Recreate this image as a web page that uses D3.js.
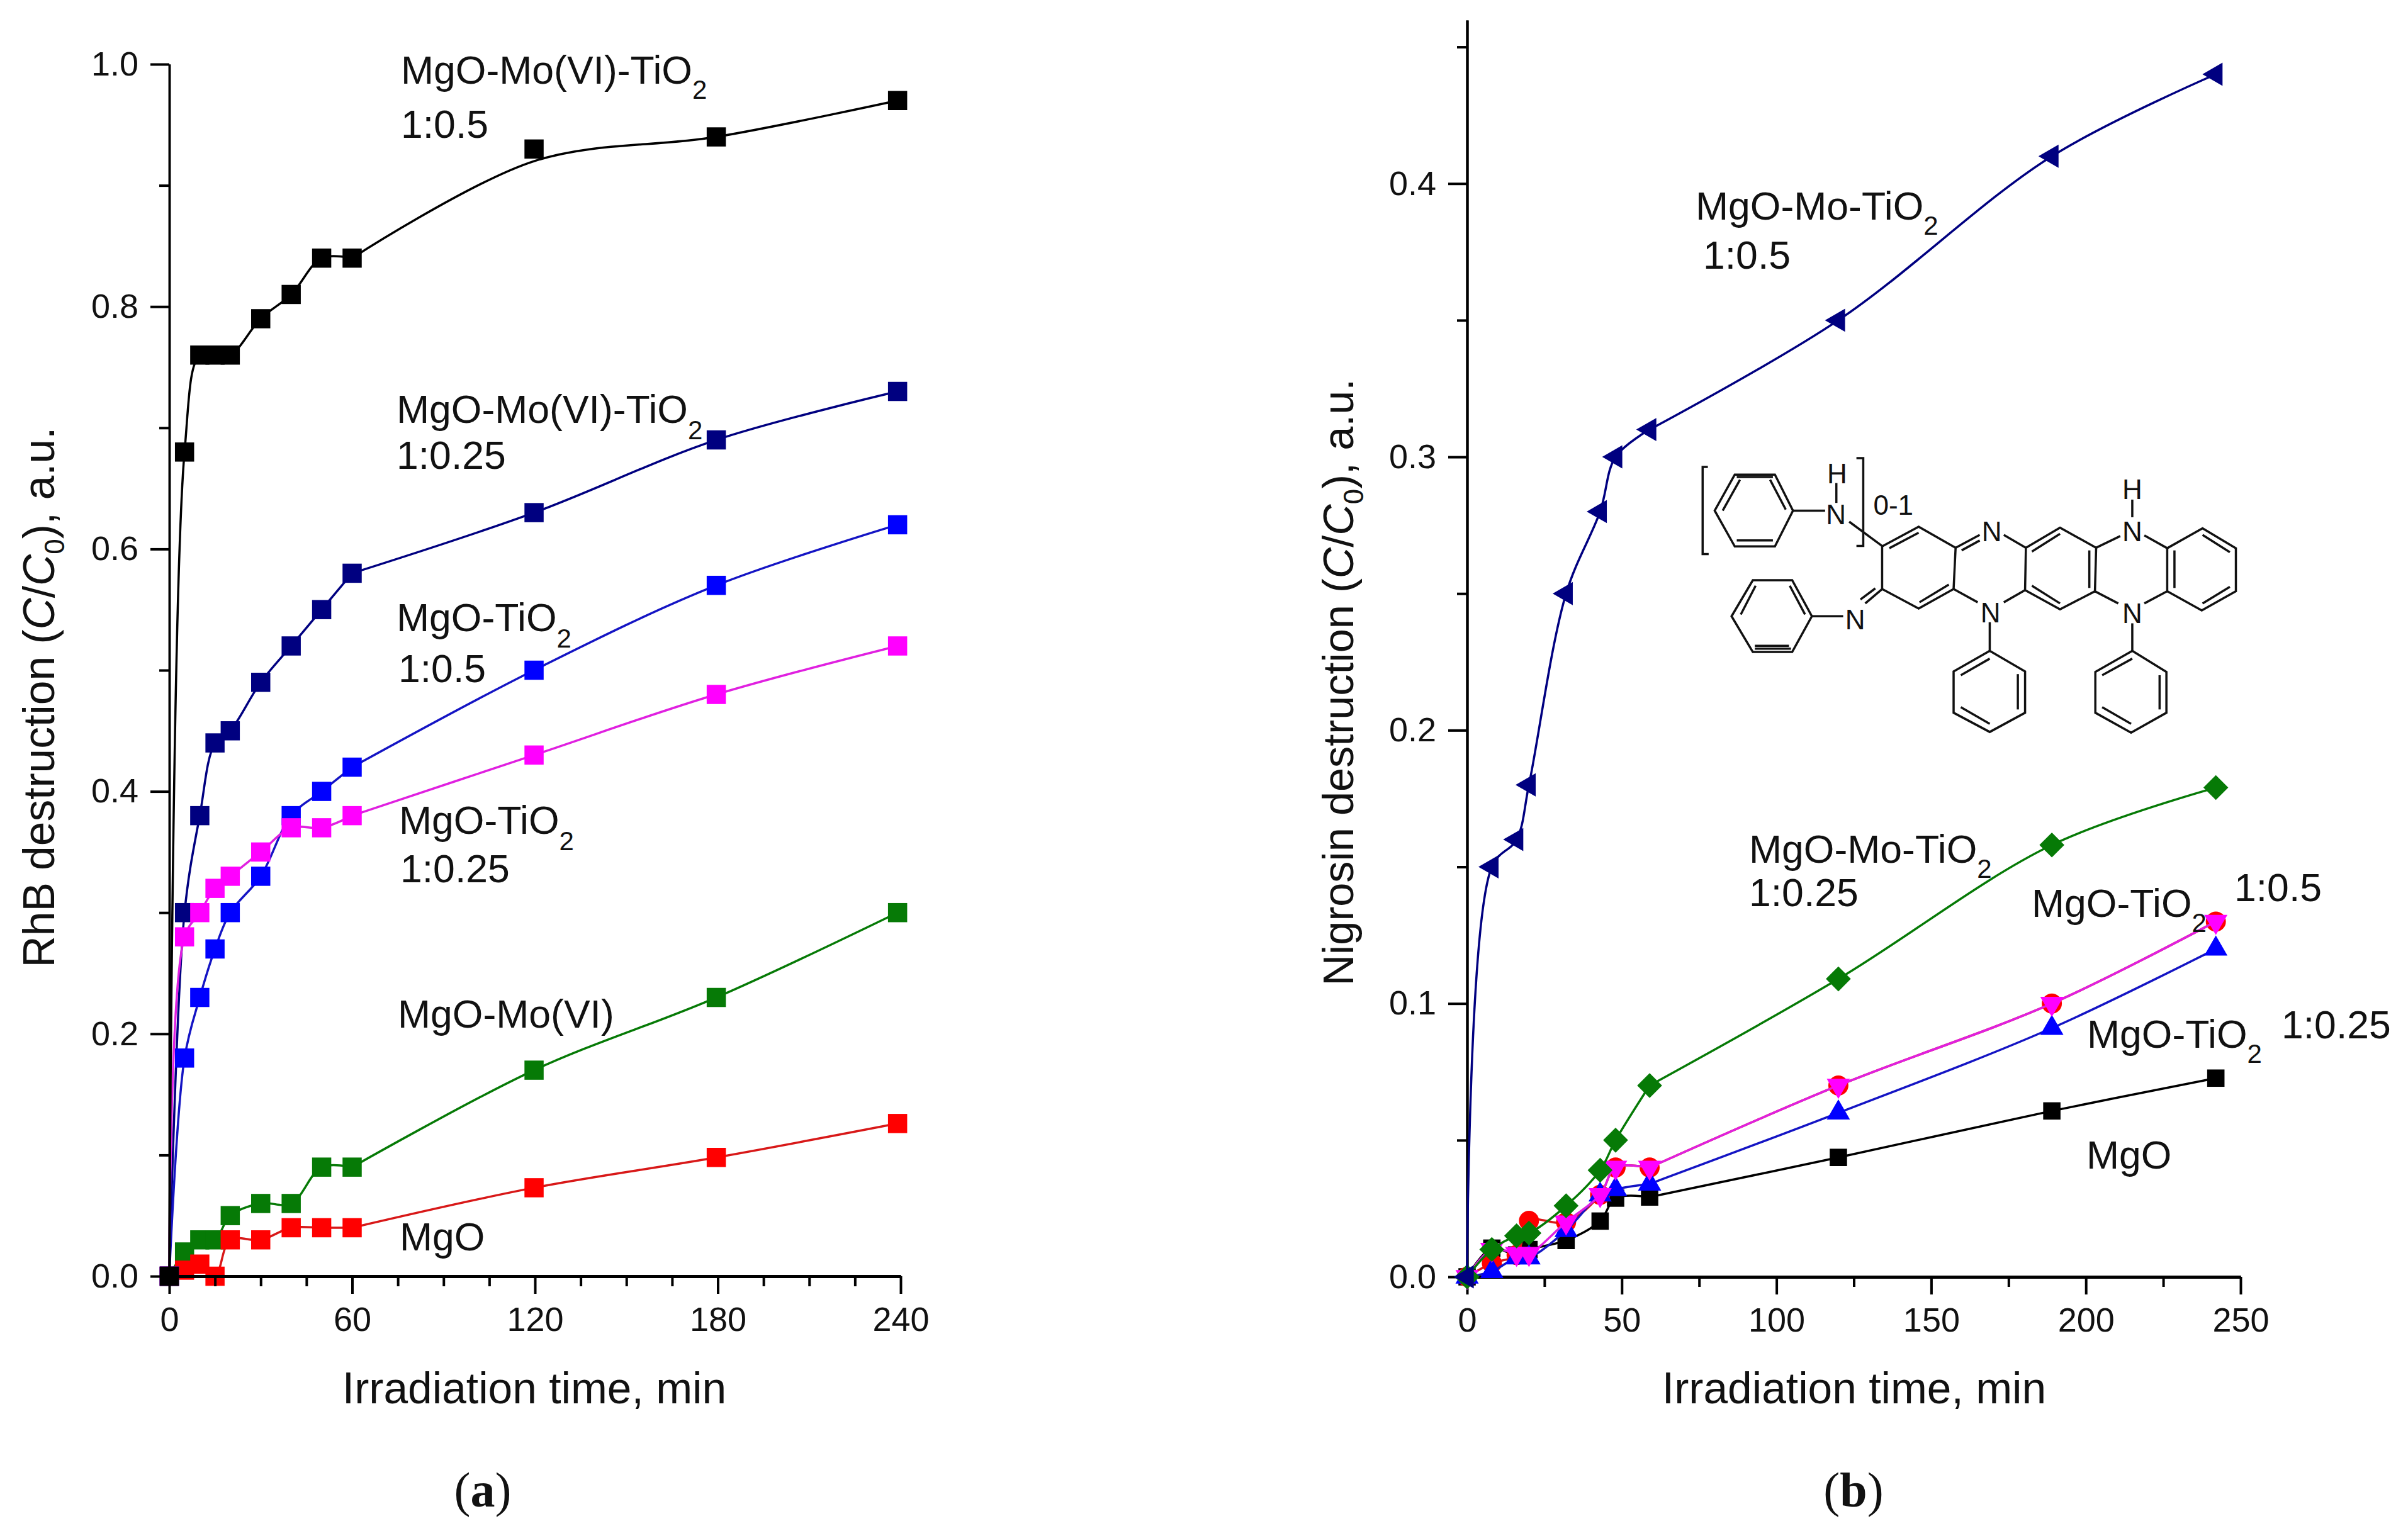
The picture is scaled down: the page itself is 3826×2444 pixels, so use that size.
<!DOCTYPE html>
<html>
<head>
<meta charset="utf-8">
<script src="https://cdn.jsdelivr.net/npm/d3@7.9.0/dist/d3.min.js"></script>
<style>
  html, body { margin: 0; background: #fff; }
  svg { display: block; }
  text { font-family: "Liberation Sans", Arial, sans-serif; fill: #111; }
</style>
</head>
<body>
<svg id="chart" width="3826" height="2444"></svg>
<script>
// panel a: RhB
const timeA = [0, 5, 10, 15, 20, 30, 40, 50, 60, 119.7, 179.5, 239];
const mgoMoTi05 = [0, 0.68, 0.76, 0.76, 0.76, 0.79, 0.81, 0.84, 0.84, 0.93, 0.94, 0.97];
const mgoMoTi05Fit = [0, 0.68, 0.76, 0.76, 0.76, 0.79, 0.81, 0.84, 0.84, 0.92, 0.94, 0.97]; // the fit misses the 120 min point
const mgoMoTi025 = [0, 0.30, 0.38, 0.44, 0.45, 0.49, 0.52, 0.55, 0.58, 0.63, 0.69, 0.73];
const mgoTi05 = [0, 0.18, 0.23, 0.27, 0.30, 0.33, 0.38, 0.40, 0.42, 0.50, 0.57, 0.62];
const mgoTi025 = [0, 0.28, 0.30, 0.32, 0.33, 0.35, 0.37, 0.37, 0.38, 0.43, 0.48, 0.52];
const mgoMo = [0, 0.02, 0.03, 0.03, 0.05, 0.06, 0.06, 0.09, 0.09, 0.17, 0.23, 0.30];
const mgoA = [0, 0.005, 0.01, 0, 0.03, 0.03, 0.04, 0.04, 0.04, 0.073, 0.098, 0.126];

// panel b: Nigrosin
const timeB = [0, 8, 16, 20, 32, 43, 48, 59, 120, 189, 242];
const nMgO = [0, 0.0105, 0.008, 0.01, 0.0133, 0.0204, 0.0288, 0.0292, 0.0437, 0.0607, 0.0727];
const nTi05Red = [0, 0.005, 0.008, 0.0205, 0.02, 0.03, 0.04, 0.04, 0.07, 0.10, 0.13];
const nTi025 = [0, 0.002, 0.007, 0.007, 0.017, 0.03, 0.032, 0.034, 0.06, 0.091, 0.12];
const nTi05 = [0, 0.01, 0.0085, 0.0085, 0.02, 0.03, 0.04, 0.04, 0.07, 0.10, 0.13];
const nMoTi025 = [0, 0.01, 0.015, 0.016, 0.026, 0.039, 0.05, 0.07, 0.109, 0.158, 0.179];
const nMoTi05 = [0, 0.15, 0.16, 0.18, 0.25, 0.28, 0.30, 0.31, 0.35, 0.41, 0.44];

const BLACK = '#000', NAVY = '#000080', BLUE = '#0000ff', PINK = '#ff00ff', GREEN = '#067a06', RED = '#ff0000';

const svg = d3.select('#chart');
svg.append('rect').attr('width', 3826).attr('height', 2444).attr('fill', '#fff');

const xA = d3.scaleLinear().domain([0, 240]).range([269, 1431]);
const yA = d3.scaleLinear().domain([0, 1]).range([2028, 102]);
const xB = d3.scaleLinear().domain([0, 250]).range([2331, 3560]);
const yB = d3.scaleLinear().domain([0, 0.4598]).range([2029, 32]);

const square = size => d3.symbol(d3.symbolSquare, size)();
const triangle = d3.symbol(d3.symbolTriangle, 590)();
const markers = {
  square: { d: square(930), rot: 0 },
  smallSquare: { d: square(760), rot: 0 },
  circle: { d: d3.symbol(d3.symbolCircle, 800)(), rot: 0 },
  up: { d: triangle, rot: 0 },
  down: { d: triangle, rot: 180 },
  left: { d: triangle, rot: -90 },
  diamond: { d: square(784), rot: 45 }
};

function drawSeries(parent, x, y, time, vals, fit, color, marker, lineColor) {
  const line = d3.line().x(d => x(d[0])).y(d => y(d[1])).curve(d3.curveCatmullRom.alpha(0.5));
  const pts = time.map((t, i) => [t, fit[i]]);
  // fit early and late parts apart, else the steep start makes the long late spans wave
  const split = pts.findIndex(d => d[0] >= 59);
  [pts.slice(0, split + 1), pts.slice(split)].forEach(part => {
    parent.append('path')
      .attr('d', line(part))
      .attr('fill', 'none')
      .attr('stroke', lineColor || color)
      .attr('stroke-width', 3.5);
  });
  parent.selectAll(null)
    .data(time.map((t, i) => [t, vals[i]]))
    .join('path')
    .attr('d', markers[marker].d)
    .attr('fill', color)
    .attr('transform', d => `translate(${x(d[0])},${y(d[1])}) rotate(${markers[marker].rot})`);
}

function drawAxes(parent, x, y, cfg) {
  // minor ticks first, then majors with labels
  const gx = parent.append('g').attr('transform', `translate(0,${y(0)})`);
  gx.append('g').call(d3.axisBottom(x).tickValues(cfg.xMinor).tickSize(16).tickFormat('').tickSizeOuter(0));
  gx.append('g').call(d3.axisBottom(x).tickValues(cfg.xMajor).tickSize(28).tickPadding(21).tickSizeOuter(0).tickFormat(d3.format('d')));
  const gy = parent.append('g').attr('transform', `translate(${x(0)},0)`);
  gy.append('g').call(d3.axisLeft(y).tickValues(cfg.yMinor).tickSize(16).tickFormat('').tickSizeOuter(0));
  gy.append('g').call(d3.axisLeft(y).tickValues(cfg.yMajor).tickSize(30).tickPadding(19).tickSizeOuter(0).tickFormat(d3.format('.1f')));
  gx.selectAll('path.domain').attr('stroke', '#000').attr('stroke-width', 5);
  gy.selectAll('path.domain').attr('stroke', '#000').attr('stroke-width', cfg.yAxisW);
  parent.selectAll('.tick line').attr('stroke', '#000').attr('stroke-width', 4);
  parent.selectAll('.tick text').attr('font-size', 54).attr('font-family', '"Liberation Sans", Arial, sans-serif').attr('fill', '#111');
}

// ---- panel a
const a = svg.append('g');
drawSeries(a, xA, yA, timeA, mgoMo, mgoMo, GREEN, 'square');
drawSeries(a, xA, yA, timeA, mgoA, mgoA, RED, 'square', '#d81818');
drawSeries(a, xA, yA, timeA, mgoMoTi025, mgoMoTi025, NAVY, 'square');
drawSeries(a, xA, yA, timeA, mgoTi05, mgoTi05, BLUE, 'square', '#1414c4');
drawSeries(a, xA, yA, timeA, mgoTi025, mgoTi025, PINK, 'square', '#e020e0');
drawAxes(a, xA, yA, {
  xMajor: [0, 60, 120, 180, 240],
  xMinor: [15, 30, 45, 75, 90, 105, 135, 150, 165, 195, 210, 225],
  yMajor: [0, 0.2, 0.4, 0.6, 0.8, 1],
  yMinor: [0.1, 0.3, 0.5, 0.7, 0.9],
  yAxisW: 3.5
});
drawSeries(a, xA, yA, timeA, mgoMoTi05, mgoMoTi05Fit, BLACK, 'square');

// ---- panel b
const b = svg.append('g');
drawAxes(b, xB, yB, {
  xMajor: [0, 50, 100, 150, 200, 250],
  xMinor: [25, 75, 125, 175, 225],
  yMajor: [0, 0.1, 0.2, 0.3, 0.4],
  yMinor: [0.05, 0.15, 0.25, 0.35, 0.45],
  yAxisW: 4
});
drawSeries(b, xB, yB, timeB, nMgO, nMgO, BLACK, 'smallSquare');
drawSeries(b, xB, yB, timeB, nTi05Red, nTi05Red, RED, 'circle', '#d81818');
drawSeries(b, xB, yB, timeB, nTi025, nTi025, BLUE, 'up', '#1414c4');
drawSeries(b, xB, yB, timeB, nTi05, nTi05, PINK, 'down', '#e020e0');
drawSeries(b, xB, yB, timeB, nMoTi025, nMoTi025, GREEN, 'diamond');
drawSeries(b, xB, yB, timeB, nMoTi05, nMoTi05, NAVY, 'left');

// ---- text
const LABEL = 62.5, SUB = 42;
// [x, baseline, text, subscript, subscript drop]
const annotations = [
  [637, 133, 'MgO-Mo(VI)-TiO', '2', 24],
  [637, 219, '1:0.5'],
  [630, 672, 'MgO-Mo(VI)-TiO', '2', 26],
  [630, 745, '1:0.25'],
  [630, 1003, 'MgO-TiO', '2', 26],
  [633, 1084, '1:0.5'],
  [634, 1325, 'MgO-TiO', '2', 26],
  [636, 1402, '1:0.25'],
  [632, 1633, 'MgO-Mo(VI)'],
  [635, 1987, 'MgO'],
  [2694, 349, 'MgO-Mo-TiO', '2', 24],
  [2706, 427, '1:0.5'],
  [2779, 1371, 'MgO-Mo-TiO', '2', 24],
  [2779, 1440, '1:0.25'],
  [3228, 1457, 'MgO-TiO', '2', 24],
  [3550, 1432, '1:0.5'],
  [3316, 1665, 'MgO-TiO', '2', 24],
  [3625, 1650, '1:0.25'],
  [3315, 1857, 'MgO']
];
annotations.forEach(([x, y, label, sub, drop]) => {
  const t = svg.append('text').attr('x', x).attr('y', y).attr('font-size', LABEL).text(label);
  if (sub) t.append('tspan').attr('font-size', SUB).attr('dy', drop).text(sub);
});

svg.append('text').attr('x', 849).attr('y', 2230).attr('text-anchor', 'middle').attr('font-size', 69.5).text('Irradiation time, min');
svg.append('text').attr('x', 2946).attr('y', 2230).attr('text-anchor', 'middle').attr('font-size', 69.5).text('Irradiation time, min');

function yTitle(x, y, before, size) {
  const t = svg.append('text').attr('transform', `translate(${x},${y}) rotate(-90)`)
    .attr('text-anchor', 'middle').attr('font-size', size).text(before + ' (');
  t.append('tspan').attr('font-style', 'italic').text('C');
  t.append('tspan').text('/');
  t.append('tspan').attr('font-style', 'italic').text('C');
  t.append('tspan').attr('font-size', 44).attr('dy', 16).text('0');
  t.append('tspan').attr('dy', -16).text('), a.u.');
}
yTitle(86, 1108, 'RhB destruction', 69.5);
yTitle(2150, 1084, 'Nigrosin destruction', 68.5);

function panelLabel(x, letter) {
  const t = svg.append('text').attr('x', x).attr('y', 2394).attr('text-anchor', 'middle')
    .attr('font-size', 78).style('font-family', '"Liberation Serif", serif').text('(');
  t.append('tspan').attr('font-weight', 'bold').text(letter);
  t.append('tspan').text(')');
}
panelLabel(767, 'a');
panelLabel(2945, 'b');

// ---- nigrosin structure, in its own drawing units
const mx = d3.scaleLinear().domain([0, 1000]).range([2600, 3238]);
const my = d3.scaleLinear().domain([0, 1000]).range([650, 1001]);
const rings = [
  [[245,297],[345,297],[390,460],[345,622],[245,622],[195,460]],
  [[290,775],[388,775],[437,938],[388,1100],[290,1100],[237,938]],
  [[612,622],[703,533],[795,628],[790,815],[703,903],[612,815]],
  [[970,628],[1055,537],[1145,628],[1142,825],[1055,907],[968,820]],
  [[1322,630],[1410,540],[1493,630],[1493,825],[1408,912],[1322,825]],
  [[880,1095],[968,1188],[968,1375],[880,1462],[790,1375],[790,1188]],
  [[1235,1095],[1320,1190],[1320,1375],[1232,1465],[1143,1375],[1143,1190]]
];
const bonds = [
  [[215,460],[258,320]], [[333,320],[372,455]], [[250,595],[340,595]], [[250,308],[340,308]],
  [[260,930],[297,800]], [[382,800],[420,930]], [[295,1072],[380,1072]], [[295,1085],[385,1085]],
  [[630,630],[703,560]], [[705,875],[778,795]],
  [[985,645],[1055,565]], [[985,800],[1055,880]], [[1128,640],[1128,810]],
  [[1410,570],[1478,648]], [[1340,640],[1340,810]], [[1478,805],[1410,880]],
  [[808,1205],[880,1130]], [[950,1200],[950,1360]], [[808,1350],[880,1425]],
  [[1160,1205],[1235,1130]], [[1303,1205],[1303,1360]], [[1160,1350],[1232,1425]],
  [[390,460],[470,460]], [[498,335],[498,425]], [[530,510],[612,620]],
  [[795,628],[855,570]], [[810,640],[855,595]], [[915,570],[970,628]],
  [[790,815],[850,875]], [[968,820],[915,875]], [[880,965],[880,1095]],
  [[1145,628],[1205,575]], [[1235,410],[1235,490]], [[1265,572],[1322,630]],
  [[1142,825],[1200,880]], [[1265,880],[1322,825]], [[1235,970],[1235,1095]],
  [[612,815],[570,880]], [[595,812],[558,862]], [[437,938],[515,938]],
  [[178,262],[165,262],[165,657],[180,657]], [[548,222],[565,222],[565,620],[548,620]]
];
const atoms = [['N',497,520],['H',500,335],['N',885,597],['N',882,965],['N',1235,597],['H',1235,408],['N',1235,968],['N',545,998]];
const mol = svg.append('g');
const molLine = d3.line().x(d => mx(d[0])).y(d => my(d[1]));
mol.selectAll(null).data(rings).join('path')
  .attr('d', d => molLine(d) + 'Z').attr('fill', 'none').attr('stroke', '#111').attr('stroke-width', 3.5);
mol.selectAll(null).data(bonds).join('path')
  .attr('d', d => molLine(d)).attr('fill', 'none').attr('stroke', '#111').attr('stroke-width', 3.5);
mol.selectAll(null).data(atoms).join('text')
  .attr('x', d => mx(d[1])).attr('y', d => my(d[2])).attr('text-anchor', 'middle')
  .attr('font-size', 44).text(d => d[0]);
mol.append('text').attr('x', mx(590)).attr('y', my(480)).attr('font-size', 44).text('0-1');
</script>
</body>
</html>
